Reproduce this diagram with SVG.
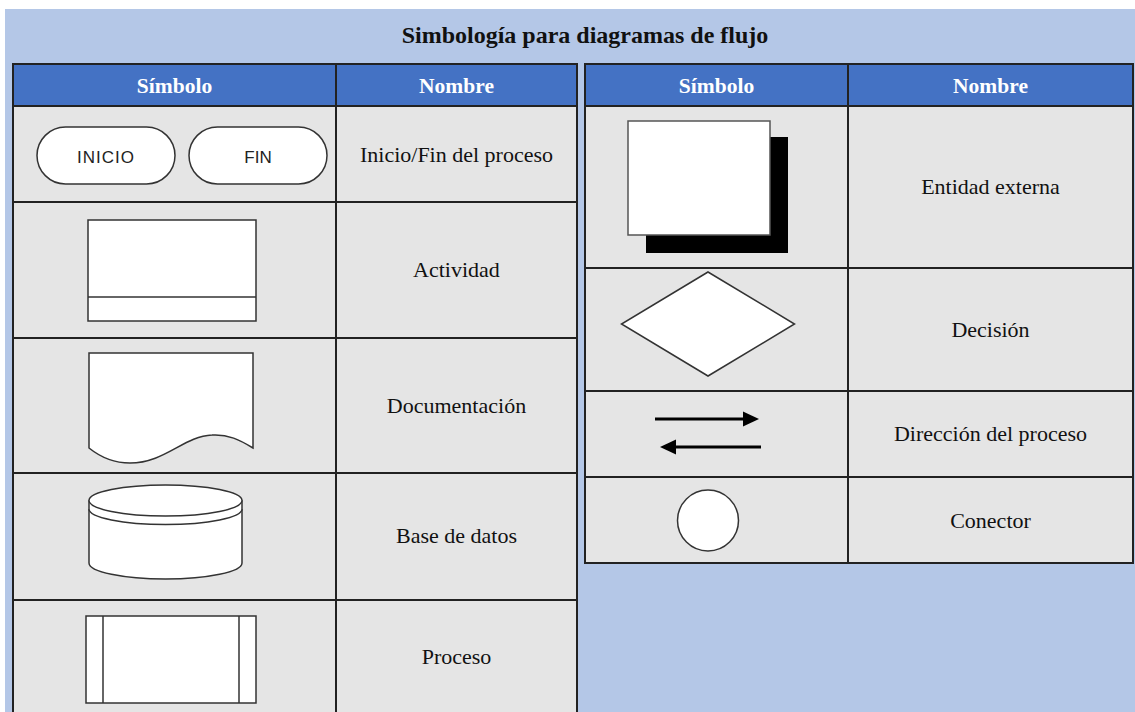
<svg xmlns="http://www.w3.org/2000/svg" width="1135" height="712" viewBox="0 0 1135 712">
<defs>
<style>
.bg{fill:#B4C7E7}
.hd{fill:#4472C4;stroke:#222;stroke-width:2}
.cell{fill:#E5E5E5;stroke:#222;stroke-width:2}
.sym{fill:#fff;stroke:#333;stroke-width:1.5}
.ht{font-weight:bold;font-size:21.5px;fill:#fff;text-anchor:middle}
.tt{font-weight:bold;font-size:24px;fill:#111;text-anchor:middle}
.nt{font-size:22px;fill:#111;text-anchor:middle}
.st{font-size:17px;fill:#222;text-anchor:middle}
.arr{stroke:#000;stroke-width:3;fill:none}
</style>
</defs>
<rect x="0" y="0" width="1135" height="712" fill="#fff"/>
<rect class="bg" x="5" y="9" width="1130" height="703"/>
<text class="tt" x="585" y="43" font-family="'Liberation Serif', 'Times New Roman', serif">Simbología para diagramas de flujo</text>

<g id="left-table">
<rect class="hd" x="13" y="64" width="323" height="42"/>
<rect class="hd" x="336" y="64" width="241" height="42"/>
<rect class="cell" x="13" y="106" width="323" height="96"/>
<rect class="cell" x="336" y="106" width="241" height="96"/>
<rect class="cell" x="13" y="202" width="323" height="136"/>
<rect class="cell" x="336" y="202" width="241" height="136"/>
<rect class="cell" x="13" y="338" width="323" height="135"/>
<rect class="cell" x="336" y="338" width="241" height="135"/>
<rect class="cell" x="13" y="473" width="323" height="127"/>
<rect class="cell" x="336" y="473" width="241" height="127"/>
<rect class="cell" x="13" y="600" width="323" height="120"/>
<rect class="cell" x="336" y="600" width="241" height="120"/>
<g font-family="'Liberation Serif', 'Times New Roman', serif">
<text class="ht" x="174.5" y="93">Símbolo</text>
<text class="ht" x="456.5" y="93">Nombre</text>
</g>
</g>

<g id="right-table">
<rect class="hd" x="585" y="64" width="263" height="42"/>
<rect class="hd" x="848" y="64" width="285" height="42"/>
<rect class="cell" x="585" y="106" width="263" height="162"/>
<rect class="cell" x="848" y="106" width="285" height="162"/>
<rect class="cell" x="585" y="268" width="263" height="123"/>
<rect class="cell" x="848" y="268" width="285" height="123"/>
<rect class="cell" x="585" y="391" width="263" height="86"/>
<rect class="cell" x="848" y="391" width="285" height="86"/>
<rect class="cell" x="585" y="477" width="263" height="86"/>
<rect class="cell" x="848" y="477" width="285" height="86"/>
<g font-family="'Liberation Serif', 'Times New Roman', serif">
<text class="ht" x="716.5" y="93">Símbolo</text>
<text class="ht" x="990.5" y="93">Nombre</text>
</g>
</g>

<g id="inicio-fin">
<rect class="sym" x="37" y="127" width="138" height="57" rx="28.5"/>
<text class="st" x="106" y="163" font-family="'Liberation Sans', Arial, sans-serif" letter-spacing="1">INICIO</text>
<rect class="sym" x="189" y="127" width="138" height="57" rx="28.5"/>
<text class="st" x="258" y="163" font-family="'Liberation Sans', Arial, sans-serif">FIN</text>
<text class="nt" x="456.5" y="162" font-family="'Liberation Serif', 'Times New Roman', serif">Inicio/Fin del proceso</text>
</g>

<g id="actividad">
<rect class="sym" x="88" y="220" width="168" height="101"/>
<line class="sym" x1="88" y1="297" x2="256" y2="297"/>
<text class="nt" x="456.5" y="277" font-family="'Liberation Serif', 'Times New Roman', serif">Actividad</text>
</g>

<g id="documentacion">
<path class="sym" d="M89,353 H253 V448 C240,440 228,434 212,435 C184,436 165,463 130,463 C112,463 99,456 89,448 Z"/>
<text class="nt" x="456.5" y="413" font-family="'Liberation Serif', 'Times New Roman', serif">Documentación</text>
</g>

<g id="base-de-datos">
<path class="sym" d="M89,501 V563 A76.5,16 0 0 0 242,563 V501 Z"/>
<path class="sym" d="M89,509 A76.5,15.5 0 0 0 242,509" fill="none"/>
<ellipse class="sym" cx="165.5" cy="500.5" rx="76.5" ry="15.5"/>
<text class="nt" x="456.5" y="543" font-family="'Liberation Serif', 'Times New Roman', serif">Base de datos</text>
</g>

<g id="proceso">
<rect class="sym" x="86" y="616" width="170" height="87"/>
<line class="sym" x1="103" y1="616" x2="103" y2="703"/>
<line class="sym" x1="239" y1="616" x2="239" y2="703"/>
<text class="nt" x="456.5" y="664" font-family="'Liberation Serif', 'Times New Roman', serif">Proceso</text>
</g>

<g id="entidad-externa">
<rect x="646" y="137" width="142" height="116" fill="#000"/>
<rect class="sym" x="628" y="121" width="142" height="114" style="stroke:#555"/>
<text class="nt" x="990.5" y="194" font-family="'Liberation Serif', 'Times New Roman', serif">Entidad externa</text>
</g>

<g id="decision">
<polygon class="sym" points="708,272 794.5,324 708,376 621.5,324"/>
<text class="nt" x="990.5" y="337" font-family="'Liberation Serif', 'Times New Roman', serif">Decisión</text>
</g>

<g id="direccion">
<line class="arr" x1="655" y1="419" x2="745" y2="419"/>
<polygon points="743,411.5 759,419 743,426.5" fill="#000"/>
<line class="arr" x1="761" y1="447" x2="674" y2="447"/>
<polygon points="676,439.5 660,447 676,454.5" fill="#000"/>
<text class="nt" x="990.5" y="441" font-family="'Liberation Serif', 'Times New Roman', serif">Dirección del proceso</text>
</g>

<g id="conector">
<circle class="sym" cx="708" cy="520.5" r="30.5"/>
<text class="nt" x="990.5" y="528" font-family="'Liberation Serif', 'Times New Roman', serif">Conector</text>
</g>
</svg>
